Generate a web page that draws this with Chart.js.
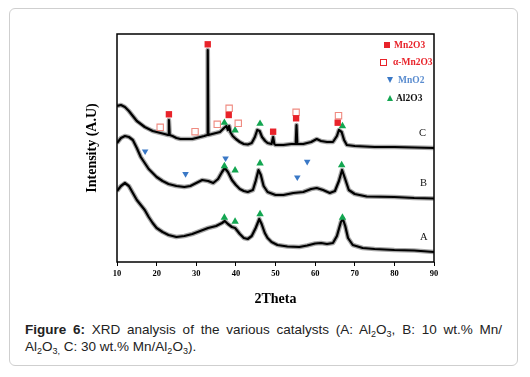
<!DOCTYPE html>
<html>
<head>
<meta charset="utf-8">
<script src="https://cdn.jsdelivr.net/npm/chart.js@4/dist/chart.umd.min.js"></script>
<style>
  html, body { margin: 0; padding: 0; background: #fff; }
  #page { position: relative; width: 530px; height: 377px; overflow: hidden; }
  #frame { position: absolute; left: 9px; top: 8px; width: 509px; height: 358px; border: 1px solid #cfcfcf; border-radius: 6px; box-sizing: border-box; }
  #chart { position: absolute; left: 0; top: 0; }
  .lg { position: absolute; font: bold 9.5px "Liberation Serif", serif; line-height: 10px; white-space: nowrap; }
  .lbl { position: absolute; font: 10.5px "Liberation Serif", serif; line-height: 12px; color: #111; }
  .sq { position: absolute; width: 6px; height: 6px; background: #e8232a; }
  .osq { position: absolute; width: 7px; height: 7px; border: 1px solid #e8232a; box-sizing: border-box; }
  .tdown { position: absolute; width: 0; height: 0; border-left: 3.5px solid transparent; border-right: 3.5px solid transparent; border-top: 6px solid #3a78c6; }
  .tup { position: absolute; width: 0; height: 0; border-left: 3.5px solid transparent; border-right: 3.5px solid transparent; border-bottom: 6px solid #13a651; }
  #caption { position: absolute; left: 25px; top: 322px; width: 477px; font: 13.5px "Liberation Sans", Arial, sans-serif; line-height: 16.5px; color: #222; }
  #caption .l1 { text-align: justify; text-align-last: justify; }
  #caption sub { font-size: 9px; line-height: 0; vertical-align: -3px; }
</style>
</head>
<body>
<div id="page">
  <div id="frame"></div>
  <canvas id="chart" width="530" height="310"></canvas>

  <div class="sq" style="left:384px; top:42px;"></div>
  <div class="lg" style="left:394px; top:40px; color:#e8232a;">Mn2O3</div>
  <div class="osq" style="left:380px; top:59px;"></div>
  <div class="lg" style="left:393px; top:57px; color:#e8232a;">α-Mn2O3</div>
  <div class="tdown" style="left:387px; top:77px;"></div>
  <div class="lg" style="left:398px; top:75px; color:#5a8ccf;">MnO2</div>
  <div class="tup" style="left:387px; top:95px;"></div>
  <div class="lg" style="left:396px; top:93px; color:#111;">Al2O3</div>

  <div class="lbl" style="left:419px; top:127px;">C</div>
  <div class="lbl" style="left:420px; top:177px;">B</div>
  <div class="lbl" style="left:420px; top:231px;">A</div>

  <div id="caption">
    <div class="l1"><b>Figure 6:</b> XRD analysis of the various catalysts (A: Al<sub>2</sub>O<sub>3</sub>, B: 10 wt.% Mn/</div>
    <div>Al<sub>2</sub>O<sub>3,</sub> C: 30 wt.% Mn/Al<sub>2</sub>O<sub>3</sub>).</div>
  </div>
</div>

<script>
// ---------- data (2Theta, relative intensity) ----------
const thetaC = [10, 11, 12, 13, 14, 15, 16, 17, 18, 19, 20, 21, 22, 22.9, 23.1, 23.3, 24, 25, 26, 27, 28, 29, 30, 31, 32, 32.75, 32.9, 33.05, 34, 35, 36, 37, 37.6, 38.0, 38.3, 38.6, 39.2, 40, 41, 42, 43, 44, 44.8, 45.4, 46, 46.6, 47.4, 48, 49, 49.4, 49.7, 50, 52, 54, 55.1, 55.3, 55.5, 57, 59, 60.4, 61.5, 63, 64.5, 65.5, 66, 66.7, 67.3, 68, 70, 75, 80, 85, 90];
const intC   = [156, 157, 155, 151, 146, 141, 138, 135, 133, 131, 130, 129, 128, 127, 142, 127, 126, 124, 123, 123, 123, 123, 124, 125, 126, 127, 212, 127, 128, 129, 130, 134, 136, 132, 136, 130, 126, 123, 120, 118, 117.5, 119, 125, 132, 131, 125, 121, 119, 118, 125, 118, 117, 117, 118, 118, 137, 118, 118, 120, 123, 121, 120, 120, 126, 132, 130, 122, 117, 116, 115, 115, 114.5, 114];

const thetaB = [10, 11, 12, 13, 14, 15, 16, 17, 18, 19, 20, 21.5, 23, 25, 27, 28.5, 30, 31.5, 33, 34.3, 35.5, 36.5, 37.2, 38, 39, 40, 41, 42, 43, 44.3, 45, 45.7, 46.3, 47, 48, 50, 52, 54.5, 57, 59, 60.4, 62, 63.7, 65, 66, 66.8, 67.5, 68.5, 70, 73, 80, 85, 90];
const intB   = [119, 124, 126, 125, 122, 114, 105, 99, 93, 89, 85, 81, 78, 76, 75, 76, 79, 82, 81, 79, 83, 90, 94, 90, 82, 77, 73, 71, 70, 72, 81, 92, 87, 76, 70, 67, 67, 69, 70, 73, 74, 72, 69, 71, 81, 92, 84, 72, 68, 65.5, 65, 64, 63.5];

const thetaA = [10, 11, 12, 13, 14, 15, 16, 17, 18, 19, 20, 21.5, 23, 25, 27, 29, 31, 33, 35, 36.5, 37.2, 38, 39, 39.8, 41, 42, 43, 44, 45, 45.9, 46.5, 47.3, 48, 49, 50.5, 53, 56, 58, 60, 61.5, 63, 64.5, 65.5, 66.5, 67, 67.6, 68.3, 69.5, 72, 75, 80, 85, 90];
const intA   = [71, 76, 79, 76, 69, 62, 57, 52, 45, 39, 34, 30, 27, 25, 26, 28, 31, 34, 36, 39, 41, 38, 35, 34, 28, 24, 23, 26, 34, 43, 38, 29, 24, 20, 17, 15.5, 15, 16.5, 18.5, 19, 18, 19, 26, 40, 43, 36, 24, 17, 14, 13, 12, 11.5, 10];

// phase markers
const mn2o3Theta  = [23.1, 32.9, 38.2, 49.4, 55.2, 65.7];
const mn2o3Int    = [147.7, 217.7, 147, 130.3, 143.7, 139.3];
const aMn2o3Theta = [20.9, 29.7, 35.3, 38.3, 40.6, 55.2, 65.9];
const aMn2o3Int   = [134.7, 130.3, 137.7, 153.7, 138.7, 149.7, 146.3];
const mno2Theta   = [17.1, 27.3, 37.4, 55.5, 58.0];
const mno2Int     = [110.7, 88, 103.7, 84.7, 100.3];
const al2o3Theta  = [37.1, 39.8, 46.1, 66.9, 37.1, 39.8, 46.1, 66.7, 37.1, 39.8, 46.1, 66.9];
const al2o3Int    = [139.3, 131.7, 138.3, 136, 96, 91.7, 98.7, 97, 44.5, 40.5, 48, 44.5];

const xTicks = [10, 20, 30, 40, 50, 60, 70, 80, 90];

function pts(xs, ys) { return xs.map((x, i) => ({ x: x, y: ys[i] })); }

// a soft grey underlay plus a black core, to look like the noisy diffractogram band
function curve(label, xs, ys, under) {
    return { label: label, data: pts(xs, ys), showLine: true,
             borderColor: under ? 'rgba(60,60,60,0.45)' : '#000', borderWidth: under ? 4.6 : 2.2,
             borderJoinStyle: 'round', pointRadius: 0, tension: 0, order: under ? 3 : 2 };
}

const frameBox = {
    id: 'frameBox',
    afterDraw(chart) {
        const a = chart.chartArea, ctx = chart.ctx;
        ctx.save();
        ctx.strokeStyle = '#000';
        ctx.lineWidth = 1.5;
        ctx.strokeRect(a.left, a.top, a.right - a.left, a.bottom - a.top);
        ctx.restore();
    }
};

new Chart(document.getElementById('chart'), {
    type: 'scatter',
    data: {
        datasets: [
            { label: 'Mn2O3', data: pts(mn2o3Theta, mn2o3Int), pointStyle: 'rect', pointRadius: 4.5,
              backgroundColor: '#e8232a', borderColor: '#e8232a', borderWidth: 0, order: 0 },
            { label: 'α-Mn2O3', data: pts(aMn2o3Theta, aMn2o3Int), pointStyle: 'rect', pointRadius: 4.5,
              backgroundColor: 'rgba(255,255,255,0)', borderColor: '#ef8a80', borderWidth: 1.1, order: 0 },
            { label: 'MnO2', data: pts(mno2Theta, mno2Int), pointStyle: 'triangle', pointRotation: 180, pointRadius: 3.8,
              backgroundColor: '#3a78c6', borderColor: '#3a78c6', borderWidth: 0, order: 0 },
            { label: 'Al2O3', data: pts(al2o3Theta, al2o3Int), pointStyle: 'triangle', pointRadius: 4.3,
              backgroundColor: '#13a651', borderColor: '#13a651', borderWidth: 0, order: 0 },
            curve('C', thetaC, intC, false),
            curve('B', thetaB, intB, false),
            curve('A', thetaA, intA, false),
            curve('C band', thetaC, intC, true),
            curve('B band', thetaB, intB, true),
            curve('A band', thetaA, intA, true)
        ]
    },
    options: {
        responsive: false,
        animation: false,
        devicePixelRatio: 1,
        layout: { padding: { top: 34, right: 96, left: 0, bottom: 0 } },
        plugins: { legend: { display: false }, tooltip: { enabled: false } },
        scales: {
            x: {
                type: 'linear', min: 10, max: 90,
                afterBuildTicks: axis => { axis.ticks = xTicks.map(v => ({ value: v })); },
                afterFit: axis => { axis.height = 48; },
                ticks: { color: '#000', padding: 3, font: { family: 'Liberation Serif', size: 8.5, weight: 'bold' } },
                grid: { display: true, drawOnChartArea: false, drawTicks: true, tickLength: 4, color: '#000', lineWidth: 1 },
                border: { display: false },
                title: { display: true, text: '2Theta', color: '#000', padding: { top: 0, bottom: 2 },
                         font: { family: 'Liberation Serif', size: 14, weight: 'bold' } }
            },
            y: {
                type: 'linear', min: 0, max: 228,
                afterFit: axis => { axis.width = 117; },
                ticks: { display: false },
                grid: { display: false },
                border: { display: false },
                title: { display: true, text: 'Intensity (A.U)', color: '#000', padding: { top: 83.6, bottom: 0 },
                         font: { family: 'Liberation Serif', size: 14, weight: 'bold' } }
            }
        }
    },
    plugins: [frameBox]
});
</script>
</body>
</html>
